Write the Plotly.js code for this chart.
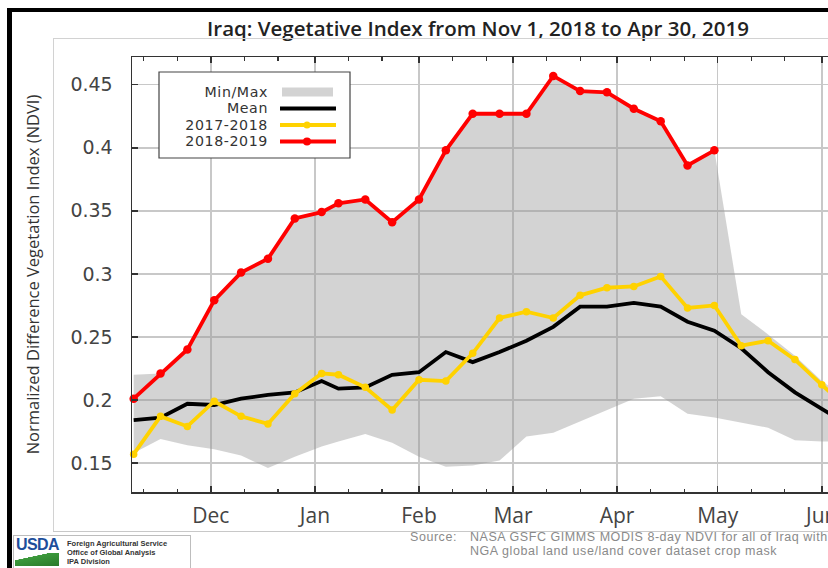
<!DOCTYPE html>
<html>
<head>
<meta charset="utf-8">
<script src="https://cdn.plot.ly/plotly-3.0.1.min.js"></script>
<style>
html,body{margin:0;padding:0;width:828px;height:568px;overflow:hidden;background:#fff;}
#chart{position:absolute;left:0;top:0;width:870px;height:568px;}
.ov{position:absolute;pointer-events:none;}
#logo{position:absolute;left:13px;top:535px;width:176px;height:40px;border:1px solid #bdbdbd;background:#fff;overflow:hidden;}
#logo .usda{position:absolute;left:2px;top:0px;font-family:'Liberation Sans',Arial,sans-serif;font-weight:bold;font-size:16px;color:#1d4e9b;letter-spacing:-0.6px;}
#logo .swoosh{position:absolute;left:1px;top:17px;width:44px;height:13px;background:linear-gradient(168deg,#ffffff 0%,#ffffff 32%,#3c9a3c 33%,#2a7a2a 100%);}
#logo .fas{position:absolute;left:53px;top:3px;font-family:'Liberation Sans',Arial,sans-serif;font-weight:bold;font-size:7.5px;line-height:9px;color:#333;white-space:nowrap;}
#legtext{position:absolute;left:140px;top:83.75px;width:128px;text-align:right;font-family:'DejaVu Sans',sans-serif;font-size:14.2px;letter-spacing:0.6px;line-height:16.5px;color:#333;white-space:nowrap;}
#src1{position:absolute;left:410px;top:530px;font-family:'Liberation Sans',Arial,sans-serif;font-size:12.5px;letter-spacing:0.55px;line-height:14px;color:#8a8a8a;white-space:nowrap;}
#src2{position:absolute;left:470px;top:530px;font-family:'Liberation Sans',Arial,sans-serif;font-size:12.5px;letter-spacing:0.55px;line-height:14px;color:#8a8a8a;white-space:nowrap;}
</style>
</head>
<body>
<div id="chart"></div>
<div class="ov" style="left:7px;top:8px;width:5px;height:560px;background:#000"></div>
<div class="ov" style="left:7px;top:8px;width:821px;height:4px;background:#000"></div>
<div class="ov" style="left:53px;top:38px;width:775px;height:1px;background:#d2d2d2"></div>
<div class="ov" style="left:53px;top:38px;width:1px;height:493px;background:#d2d2d2"></div>
<div class="ov" style="left:53px;top:531px;width:775px;height:1px;background:#c8c8c8"></div>
<div id="logo"><div class="usda">USDA</div><div class="swoosh"></div><div class="fas">Foreign Agricultural Service<br>Office of Global Analysis<br>IPA Division</div></div>
<div id="legtext" class="ov"></div>
<div id="src1" class="ov"></div>
<div id="src2" class="ov"></div>
<script>
// ---- data (8-day composite end dates) ----
const dates = ['2018-11-08','2018-11-16','2018-11-24','2018-12-02','2018-12-10','2018-12-18','2018-12-26',
  '2019-01-03','2019-01-08','2019-01-16','2019-01-24','2019-02-01','2019-02-09','2019-02-17','2019-02-25',
  '2019-03-05','2019-03-13','2019-03-21','2019-03-29','2019-04-06','2019-04-14','2019-04-22','2019-04-30',
  '2019-05-08','2019-05-16','2019-05-24','2019-06-01','2019-06-09'];
const ndvi20182019 = [0.201,0.221,0.240,0.279,0.301,0.312,0.344,0.349,0.356,0.359,0.341,0.359,0.398,0.427,0.427,
  0.427,0.457,0.445,0.444,0.431,0.421,0.386,0.398,null,null,null,null,null];
const ndvi20172018 = [0.157,0.187,0.179,0.199,0.187,0.181,0.205,0.221,0.220,0.210,0.192,0.216,0.215,0.237,0.265,
  0.270,0.265,0.283,0.289,0.290,0.298,0.273,0.275,0.243,0.247,0.232,0.212,0.193];
const ndviMean = [0.184,0.186,0.197,0.196,0.201,0.204,0.206,0.215,0.209,0.210,0.220,0.222,0.238,0.230,0.238,
  0.247,0.258,0.274,0.274,0.277,0.274,0.262,0.255,0.241,0.222,0.206,0.193,0.180];
const ndviMax = [0.220,0.221,0.240,0.279,0.301,0.312,0.344,0.349,0.356,0.359,0.341,0.359,0.398,0.427,0.427,
  0.427,0.457,0.445,0.444,0.431,0.421,0.386,0.398,0.268,0.252,0.235,0.215,0.200];
const ndviMin = [0.158,0.169,0.164,0.161,0.156,0.146,0.155,0.163,0.167,0.173,0.166,0.155,0.147,0.148,0.152,
  0.171,0.174,0.183,0.192,0.201,0.203,0.189,0.186,0.182,0.178,0.168,0.167,0.167];
const monthTicks = ['2018-12-01','2019-01-01','2019-02-01','2019-03-01','2019-04-01','2019-05-01','2019-06-01'];
const monthLabels = ['Dec','Jan','Feb','Mar','Apr','May','Jun'];
const yTickVals = [0.15,0.2,0.25,0.3,0.35,0.4,0.45];
const yTickLabels = ['0.15','0.2','0.25','0.3','0.35','0.4','0.45'];
const seriesNames = ['Min/Max','Mean','2017-2018','2018-2019'];
const titleText = 'Iraq: Vegetative Index from Nov 1, 2018 to Apr 30, 2019';
const yTitle = 'Normalized Difference Vegetation Index (NDVI)';
const sourceLabel = 'Source:';
const sourceLines = ['NASA GSFC GIMMS MODIS 8-day NDVI for all of Iraq with','NGA global land use/land cover dataset crop mask'];

// legend texts and source note as real text
document.getElementById('legtext').innerHTML = seriesNames.join('<br>');
document.getElementById('src1').textContent = sourceLabel;
document.getElementById('src2').innerHTML = sourceLines.join('<br>');

// minor ticks on the 11th and 21st of each month
const minorTicks = [];
[['2018',11],['2018',12],['2019',1],['2019',2],['2019',3],['2019',4],['2019',5],['2019',6]].forEach(function(m){
  const mm = String(m[1]).padStart(2,'0');
  minorTicks.push(m[0]+'-'+mm+'-11', m[0]+'-'+mm+'-21');
});

// ---- geometry ----
const W = 870, H = 568, L = 132, R = 11, T = 57, B = 76;
const PW = W - L - R, PH = H - T - B;
function px(x){ return (x - L) / PW; }
function py(y){ return (T + PH - y) / PH; }

const RED = '#ff0000', YEL = '#ffd200', BAND = 'rgba(150,150,150,0.42)';

const traces = [
  {x: dates, y: ndviMax, mode: 'lines', line: {width: 0, color: BAND}, hoverinfo: 'skip', showlegend: false},
  {x: dates, y: ndviMin, mode: 'lines', fill: 'tonexty', fillcolor: BAND, line: {width: 0, color: BAND}, name: seriesNames[0], showlegend: false},
  {x: dates, y: ndviMean, mode: 'lines', line: {color: '#000', width: 3.8}, name: seriesNames[1], showlegend: false},
  {x: dates, y: ndvi20172018, mode: 'lines+markers', line: {color: YEL, width: 3.8}, marker: {color: YEL, size: 7.5}, name: seriesNames[2], showlegend: false, cliponaxis: false},
  {x: dates, y: ndvi20182019, mode: 'lines+markers', line: {color: RED, width: 3.8}, marker: {color: RED, size: 8.5}, name: seriesNames[3], showlegend: false, cliponaxis: false, connectgaps: false}
];

// custom legend symbols (symbol on the right as in the reference)
const legRows = [92, 108.5, 125, 141.5];
const shapes = [
  {type: 'rect', xref: 'paper', yref: 'paper', x0: px(159), x1: px(350), y0: py(158), y1: py(72), line: {color: '#444', width: 1.2}, fillcolor: '#fff', layer: 'above'},
  {type: 'rect', xref: 'paper', yref: 'paper', x0: px(282), x1: px(333), y0: py(96.5), y1: py(87.5), line: {width: 0}, fillcolor: 'rgb(211,211,211)'},
  {type: 'line', xref: 'paper', yref: 'paper', x0: px(280), x1: px(336), y0: py(legRows[1]), y1: py(legRows[1]), line: {color: '#000', width: 3.8}},
  {type: 'line', xref: 'paper', yref: 'paper', x0: px(280), x1: px(336), y0: py(legRows[2]), y1: py(legRows[2]), line: {color: YEL, width: 3.8}},
  {type: 'circle', xref: 'paper', yref: 'paper', x0: px(303.5), x1: px(310.5), y0: py(legRows[2]+3.5), y1: py(legRows[2]-3.5), line: {width: 0}, fillcolor: YEL},
  {type: 'line', xref: 'paper', yref: 'paper', x0: px(280), x1: px(336), y0: py(legRows[3]), y1: py(legRows[3]), line: {color: RED, width: 3.8}},
  {type: 'circle', xref: 'paper', yref: 'paper', x0: px(303), x1: px(311), y0: py(legRows[3]+4), y1: py(legRows[3]-4), line: {width: 0}, fillcolor: RED}
];

const layout = {
  width: W, height: H,
  margin: {l: L, r: R, t: T, b: B, pad: 0},
  paper_bgcolor: 'rgba(0,0,0,0)', plot_bgcolor: '#fff',
  showlegend: false,
  title: {text: titleText, font: {family: 'Open Sans', size: 20.5, color: '#222', weight: 600},
    xref: 'container', yref: 'container', x: 478 / W, xanchor: 'center', y: 1 - 29 / H, yanchor: 'middle'},
  xaxis: {type: 'date', range: ['2018-11-07 12:00', '2019-06-12 02:00'], tickmode: 'array', tickvals: monthTicks, ticktext: monthLabels,
    ticks: 'inside', ticklen: 6, tickwidth: 1.5, tickcolor: '#333', showline: true, linecolor: '#333', linewidth: 1.5, mirror: 'allticks',
    showgrid: true, gridcolor: 'rgb(200,200,200)', gridwidth: 1.5, zeroline: false,
    tickfont: {family: 'Open Sans', size: 21, color: '#444'}, ticklabelstandoff: 4,
    minor: {tickmode: 'array', tickvals: minorTicks, ticks: 'inside', ticklen: 3.5, tickwidth: 1.2, tickcolor: '#333', showgrid: false},
    fixedrange: true},
  yaxis: {range: [0.127, 0.472], tickmode: 'array', tickvals: yTickVals, ticktext: yTickLabels,
    ticks: 'inside', ticklen: 6, tickwidth: 1.5, tickcolor: '#333', showline: true, linecolor: '#333', linewidth: 1.5, mirror: 'allticks',
    showgrid: true, gridcolor: 'rgb(200,200,200)', gridwidth: 1.5, zeroline: false,
    tickfont: {family: 'DejaVu Sans', size: 19, color: '#444'}, ticklabelstandoff: 14,
    title: {text: yTitle, font: {family: 'Open Sans', size: 16.5, color: '#333'}, standoff: 26},
    automargin: false, fixedrange: true},
  shapes: shapes
};

Plotly.newPlot('chart', traces, layout, {staticPlot: true, displayModeBar: false});
</script>
</body>
</html>
